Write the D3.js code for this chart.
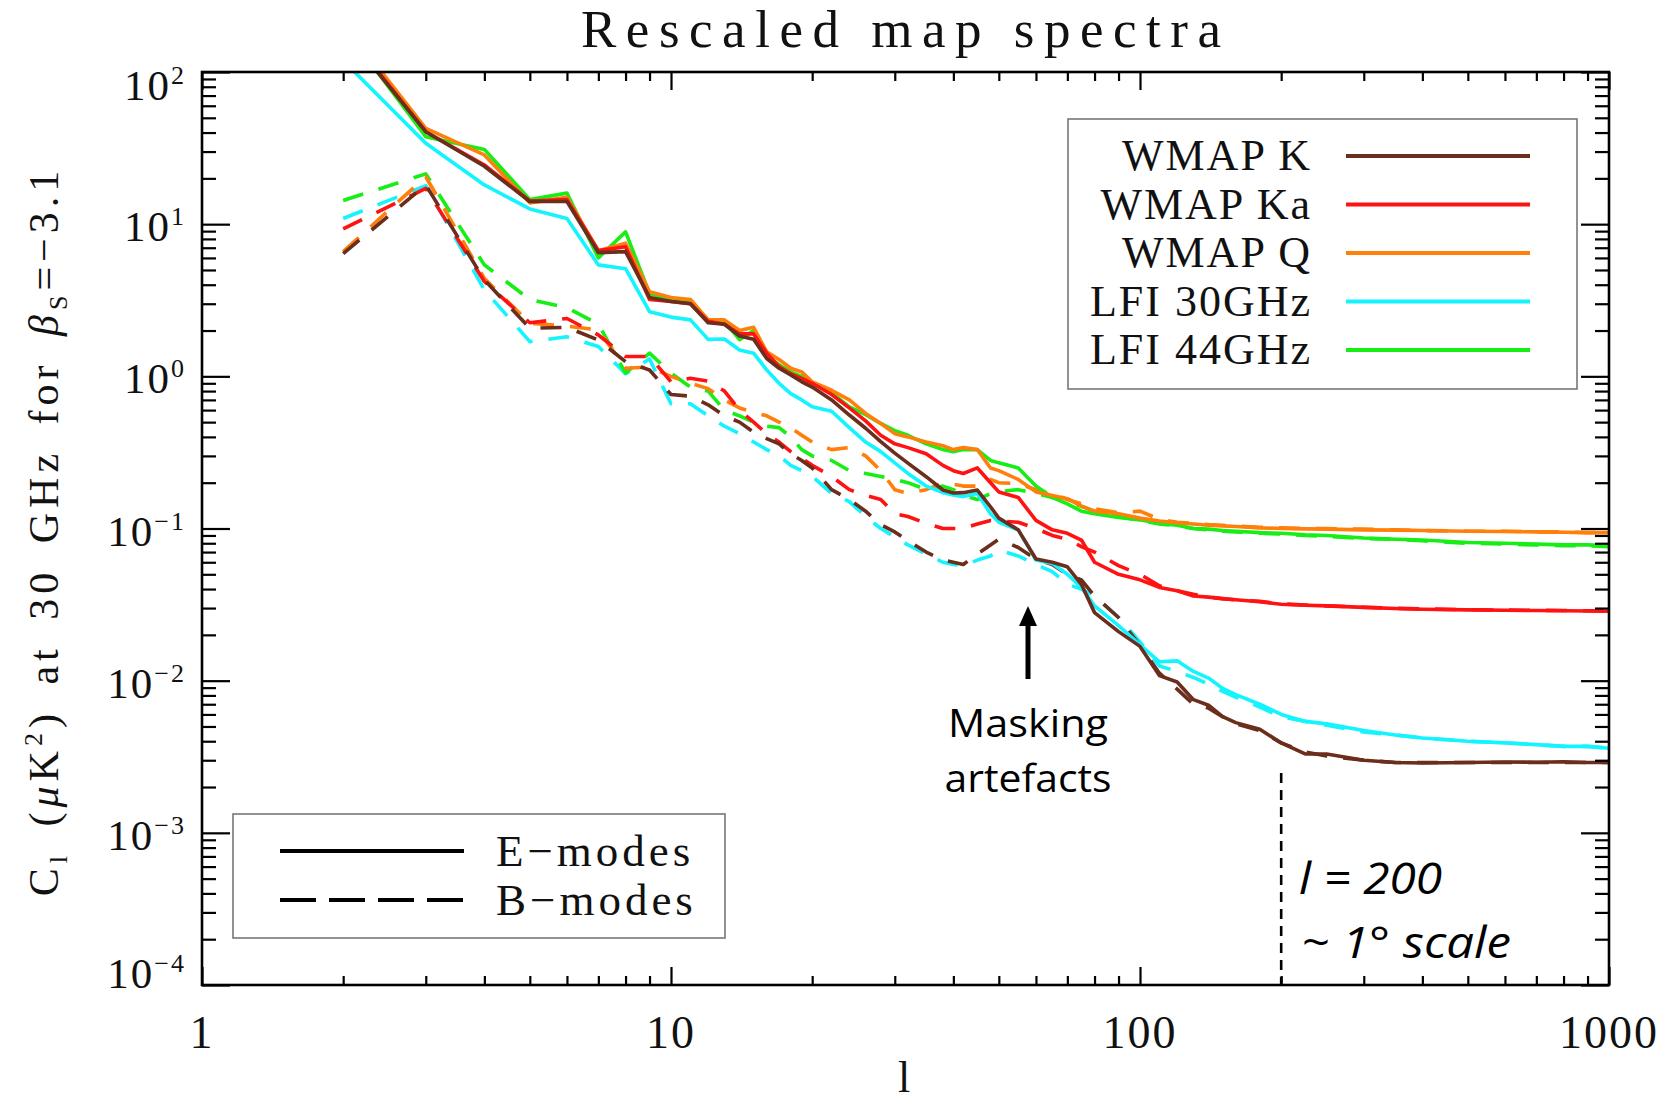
<!DOCTYPE html>
<html>
<head>
<meta charset="utf-8">
<script src="https://cdn.jsdelivr.net/npm/d3@7"></script>
<style>
  html, body { margin:0; padding:0; background:#fff; }
  svg { display:block; }
  .idl { font-family:"Liberation Serif","Times New Roman",serif; fill:#111; }
  .note { font-family:"Open Sans","Liberation Sans",sans-serif; fill:#000; }
</style>
</head>
<body>
<div id="chart"></div>
<script>
// multipole grid (shared by every series)
var ell = [2,3,4,5,6,7,8,9,10,11,12,13,14,15,16,17,18,19,20,22,24,26,28,30,32,35,38,40,42,45,48,50,
           55,60,65,70,75,80,90,100,110,120,130,140,150,160,180,200,225,250,300,350,400,500,600,700,800,900,1000];

// E-modes (solid)
var wmapK_E = [190,40.5,24,14.1,14.1,6.5,6.6,3.3, 3.1,3.0,2.25,2.2,1.84,1.75,1.31,1.13,1.02,0.92,0.85,
  0.70,0.557,0.456,0.372,0.313,0.269, 0.219,0.179,0.171,0.172,0.179,0.139,0.117,
  0.098,0.063,0.060,0.056,0.043,0.028,0.021,0.0168, 0.0108,0.0098,0.0075,0.0069,0.0058,0.0053,0.0048,0.0039,
  0.0033,0.0033,0.0030,0.0029,0.00288, 0.0029,0.00292,0.00291,0.00293,0.0029,0.0029];
var wmapKa_E = [195,40.5,24.5,14.2,14.5,6.7,7.1,3.2, 3.1,3.0,2.3,2.2,1.9,1.9,1.42,1.16,1.04,0.97,0.90,
  0.76,0.62,0.51,0.41,0.36,0.34, 0.31,0.26,0.24,0.23,0.25,0.20,0.174,
  0.16,0.113,0.098,0.093,0.084,0.06,0.05,0.046, 0.041,0.039,0.036,0.0354,0.0346,0.034,0.033,0.0318,
  0.0313,0.031,0.0303,0.0298,0.0295, 0.0292,0.029,0.0289,0.0288,0.0287,0.0286];
var wmapQ_E = [210,42.6,28.5,13.8,15,6.7,7.5,3.6, 3.3,3.2,2.35,2.35,2.0,2.1,1.45,1.29,1.13,1.07,0.92,
  0.81,0.70,0.57,0.49,0.42,0.40, 0.37,0.35,0.33,0.34,0.33,0.25,0.24,
  0.21,0.174,0.165,0.157,0.14,0.13,0.125,0.117, 0.112,0.109,0.107,0.105,0.104,0.103,0.101,0.1,
  0.0995,0.099,0.098,0.0975,0.097, 0.096,0.0955,0.095,0.0945,0.094,0.094];
var lfi30_E = [119,34,18.1,12.6,10.9,5.4,5.1,2.66, 2.45,2.35,1.75,1.76,1.49,1.42,1.1,0.90,0.77,0.70,0.63,
  0.59,0.46,0.37,0.32,0.27,0.23, 0.19,0.172,0.166,0.162,0.17,0.125,0.11,
  0.098,0.062,0.059,0.05,0.041,0.031,0.023,0.0172, 0.0133,0.0135,0.0115,0.0104,0.0089,0.0081,0.0070,0.0060,
  0.0054,0.0052,0.0047,0.0044,0.0042, 0.0040,0.0039,0.0038,0.0037,0.0037,0.0036];
var lfi44_E = [200,37.6,31,14.5,16,6.0,8.9,3.5, 3.2,3.1,2.35,2.3,1.74,2.0,1.38,1.19,1.07,1.0,0.90,
  0.78,0.63,0.56,0.49,0.44,0.41, 0.36,0.33,0.32,0.33,0.33,0.28,0.27,
  0.25,0.19,0.16,0.145,0.13,0.125,0.118,0.114, 0.108,0.105,0.10,0.099,0.097,0.096,0.094,0.093,
  0.091,0.090,0.0867,0.085,0.084, 0.081,0.08,0.079,0.078,0.078,0.077];

// B-modes (dashed)
var wmapK_B = [6.4,18.1,4.3,2.07,2.1,1.73,1.25,1.1, 0.76,0.74,0.65,0.55,0.50,0.43,0.39,0.36,0.31,0.28,0.25,
  0.18,0.155,0.13,0.106,0.095,0.083, 0.07,0.062,0.06,0.058,0.068,0.078,0.085,
  0.075,0.063,0.058,0.05,0.046,0.036,0.026,0.017, 0.0112,0.0088,0.0070,0.0066,0.0058,0.0052,0.0047,0.0039,
  0.0034,0.0032,0.0030,0.0029,0.0029, 0.0029,0.0029,0.0029,0.0029,0.0029,0.0029];
var wmapKa_B = [9.3,17.2,4.2,2.25,2.4,1.87,1.35,1.35, 0.92,0.97,0.93,0.8,0.6,0.5,0.42,0.37,0.32,0.29,0.26,
  0.22,0.18,0.165,0.155,0.125,0.12, 0.108,0.1,0.1,0.1,0.107,0.113,0.112,
  0.11,0.1,0.09,0.085,0.076,0.07,0.057,0.05, 0.042,0.039,0.037,0.0355,0.0345,0.034,0.0332,0.032,
  0.0314,0.031,0.0304,0.0299,0.0296, 0.0293,0.0291,0.029,0.0289,0.0288,0.0287];
var wmapQ_B = [6.6,20.5,4.4,2.23,2.14,2.02,1.13,1.15, 1.0,0.9,0.83,0.7,0.62,0.58,0.55,0.5,0.46,0.41,0.37,
  0.33,0.34,0.3,0.24,0.18,0.17, 0.18,0.2,0.195,0.19,0.19,0.21,0.2,
  0.197,0.18,0.17,0.155,0.145,0.135,0.127,0.13, 0.115,0.11,0.108,0.106,0.105,0.104,0.102,0.101,
  0.1,0.1,0.099,0.098,0.097, 0.096,0.096,0.095,0.095,0.094,0.094];
var lfi30_B = [10.9,17.9,3.7,1.69,1.82,1.57,1.04,1.3, 0.66,0.66,0.55,0.47,0.42,0.37,0.33,0.30,0.26,0.24,0.22,
  0.17,0.15,0.12,0.10,0.088,0.078, 0.068,0.06,0.058,0.057,0.062,0.066,0.072,
  0.066,0.058,0.052,0.043,0.04,0.036,0.026,0.018, 0.0125,0.0115,0.0105,0.0095,0.0085,0.0078,0.0067,0.0058,
  0.0054,0.0051,0.0046,0.0044,0.0042, 0.004,0.0039,0.0038,0.0037,0.0037,0.0036];
var lfi44_B = [14.3,21.4,5.4,3.2,2.83,2.2,1.05,1.42, 1.05,0.85,0.8,0.6,0.55,0.5,0.47,0.46,0.4,0.33,0.3,
  0.28,0.24,0.23,0.22,0.21,0.2, 0.18,0.19,0.18,0.165,0.155,0.17,0.175,
  0.18,0.17,0.16,0.15,0.14,0.13,0.12,0.113, 0.107,0.104,0.1,0.098,0.096,0.095,0.093,0.092,
  0.09,0.089,0.086,0.085,0.083, 0.08,0.079,0.078,0.077,0.077,0.076];

var seriesNames = ["WMAP K","WMAP Ka","WMAP Q","LFI 30GHz","LFI 44GHz"];
var seriesE = [wmapK_E, wmapKa_E, wmapQ_E, lfi30_E, lfi44_E];
var seriesB = [wmapK_B, wmapKa_B, wmapQ_B, lfi30_B, lfi44_B];
var modeNames = ["E\u2212modes","B\u2212modes"];
var yTickExps = [2,1,0,-1,-2,-3,-4];
var xTickLabels = ["1","10","100","1000"];

var colors = ["#6b2d1c","#ff1212","#ff7f0a","#14f4ff","#16ee16"];
var drawOrder = [3,4,2,1,0];

var W = 1664, H = 1104;
var L = 202, R = 1609, T = 72, B = 985;

var svg = d3.select("#chart").append("svg").attr("width",W).attr("height",H);
svg.append("rect").attr("width",W).attr("height",H).attr("fill","#fff");

var x = d3.scaleLog().domain([1,1000]).range([L,R]);
var y = d3.scaleLog().domain([1e-4,1e2]).range([B,T]);

function isMajor(t) {
    var e = Math.log10(t);
    return Math.abs(e - Math.round(e)) < 1e-6;
}
var xMajor = x.ticks().filter(isMajor), xMinor = x.ticks().filter(function (t) { return !isMajor(t); });
var yMajor = y.ticks().filter(isMajor), yMinor = y.ticks().filter(function (t) { return !isMajor(t); });

// clip for the curves
svg.append("clipPath").attr("id","plotClip")
    .append("rect").attr("x",L).attr("y",T).attr("width",R-L).attr("height",B-T);

var line = d3.line()
    .x(function (d) { return x(d[0]); })
    .y(function (d) { return y(d[1]); });

var curves = svg.append("g").attr("clip-path","url(#plotClip)");
drawOrder.forEach(function (i) {
    curves.append("path")
        .datum(ell.map(function (l, k) { return [l, seriesB[i][k]]; }))
        .attr("d", line).attr("fill","none")
        .attr("stroke", colors[i]).attr("stroke-width",3.6)
        .attr("stroke-dasharray","21,16").attr("stroke-linejoin","round");
});
drawOrder.forEach(function (i) {
    curves.append("path")
        .datum(ell.map(function (l, k) { return [l, seriesE[i][k]]; }))
        .attr("d", line).attr("fill","none")
        .attr("stroke", colors[i]).attr("stroke-width",3.6)
        .attr("stroke-linejoin","round");
});

// axes: inward ticks on all four sides
function addAxis(axis, tx, ty) {
    var g = svg.append("g").attr("transform","translate(" + tx + "," + ty + ")").call(axis);
    g.select(".domain").remove();
    g.selectAll("line").attr("stroke","#000").attr("stroke-width",2.2);
    g.selectAll("text").remove();
    return g;
}
addAxis(d3.axisBottom(x).tickValues(xMajor).tickSize(-18).tickSizeOuter(0), 0, B);
addAxis(d3.axisBottom(x).tickValues(xMinor).tickSize(-9).tickSizeOuter(0), 0, B);
addAxis(d3.axisTop(x).tickValues(xMajor).tickSize(-18).tickSizeOuter(0), 0, T);
addAxis(d3.axisTop(x).tickValues(xMinor).tickSize(-9).tickSizeOuter(0), 0, T);
addAxis(d3.axisLeft(y).tickValues(yMajor).tickSize(-28).tickSizeOuter(0), L, 0);
addAxis(d3.axisLeft(y).tickValues(yMinor).tickSize(-14).tickSizeOuter(0), L, 0);
addAxis(d3.axisRight(y).tickValues(yMajor).tickSize(-28).tickSizeOuter(0), R, 0);
addAxis(d3.axisRight(y).tickValues(yMinor).tickSize(-14).tickSizeOuter(0), R, 0);

svg.append("rect").attr("x",L).attr("y",T).attr("width",R-L).attr("height",B-T)
    .attr("fill","none").attr("stroke","#000").attr("stroke-width",2.6);

// x tick labels
svg.selectAll("text.xlab").data(xTickLabels).enter().append("text")
    .attr("class","idl xlab")
    .attr("x", function (d) { return x(+d); })
    .attr("y", B + 63)
    .attr("text-anchor","middle")
    .attr("font-size",46).attr("letter-spacing",2)
    .text(function (d) { return d; });

// y tick labels 10^n
var ylab = svg.selectAll("text.ylab").data(yTickExps).enter().append("text")
    .attr("class","idl ylab")
    .attr("x", 186)
    .attr("y", function (e) { return Math.min(Math.max(y(Math.pow(10,e)) + 17, T + 28), B + 3); })
    .attr("text-anchor","end")
    .attr("font-size",43).attr("letter-spacing",2);
ylab.append("tspan").text("10");
ylab.append("tspan").attr("font-size",26).attr("dy",-16)
    .text(function (e) { return e < 0 ? "\u2212" + (-e) : String(e); });

// title and axis titles
svg.append("text").attr("class","idl")
    .attr("x",581).attr("y",47).attr("font-size",53)
    .attr("textLength",640).attr("lengthAdjust","spacing")
    .text("Rescaled map spectra");

svg.append("text").attr("class","idl")
    .attr("x",904).attr("y",1092).attr("text-anchor","middle").attr("font-size",44)
    .text("l");

var yt = svg.append("text").attr("class","idl")
    .attr("transform","translate(58,531) rotate(-90)")
    .attr("text-anchor","middle").attr("font-size",42)
    .attr("letter-spacing",5).attr("word-spacing",9);
yt.append("tspan").text("C");
yt.append("tspan").attr("font-size",26).attr("dy",9).text("l");
yt.append("tspan").attr("dy",-9).text(" (");
yt.append("tspan").attr("font-style","italic").text("\u03bc");
yt.append("tspan").text("K");
yt.append("tspan").attr("font-size",26).attr("dy",-16).text("2");
yt.append("tspan").attr("dy",16).text(") at 30 GHz for ");
yt.append("tspan").attr("font-style","italic").text("\u03b2");
yt.append("tspan").attr("font-size",26).attr("dy",9).text("S");
yt.append("tspan").attr("dy",-9).text("=\u22123.1");

// series legend
svg.append("rect").attr("x",1068).attr("y",119).attr("width",509).attr("height",270)
    .attr("fill","#fff").attr("stroke","#777").attr("stroke-width",1.6);
var leg = svg.selectAll("g.leg").data(seriesNames).enter().append("g").attr("class","leg")
    .attr("transform", function (d, i) { return "translate(0," + (170 + i * 48.5) + ")"; });
leg.append("text").attr("class","idl").attr("x",1312).attr("y",0)
    .attr("text-anchor","end").attr("font-size",44).attr("letter-spacing",2)
    .text(function (d) { return d; });
leg.append("line").attr("x1",1346).attr("x2",1530).attr("y1",-14).attr("y2",-14)
    .attr("stroke", function (d, i) { return colors[i]; }).attr("stroke-width",4);

// mode legend
svg.append("rect").attr("x",233).attr("y",814).attr("width",492).attr("height",124)
    .attr("fill","#fff").attr("stroke","#777").attr("stroke-width",1.6);
var mleg = svg.selectAll("g.mleg").data(modeNames).enter().append("g").attr("class","mleg")
    .attr("transform", function (d, i) { return "translate(0," + (866 + i * 49) + ")"; });
mleg.append("text").attr("class","idl").attr("x",496).attr("y",0)
    .attr("font-size",45).attr("letter-spacing",4)
    .text(function (d) { return d; });
mleg.append("line").attr("x1",280).attr("x2",464).attr("y1",-15).attr("y2",-15)
    .attr("stroke","#000").attr("stroke-width",4)
    .attr("stroke-dasharray", function (d, i) { return i ? "36,13" : null; });

// annotations
svg.append("line").attr("x1",1028).attr("x2",1028).attr("y1",679).attr("y2",622)
    .attr("stroke","#000").attr("stroke-width",5);
svg.append("path").attr("d","M1019,626 L1028,606 L1037,626 Z").attr("fill","#000");
svg.append("text").attr("class","note").attr("x",1028).attr("y",737)
    .attr("text-anchor","middle").attr("font-size",39)
    .attr("textLength",160).attr("lengthAdjust","spacingAndGlyphs").text("Masking");
svg.append("text").attr("class","note").attr("x",1028).attr("y",792)
    .attr("text-anchor","middle").attr("font-size",39)
    .attr("textLength",167).attr("lengthAdjust","spacingAndGlyphs").text("artefacts");

svg.append("line").attr("x1",x(200)).attr("x2",x(200)).attr("y1",773).attr("y2",B)
    .attr("stroke","#000").attr("stroke-width",2.6).attr("stroke-dasharray","10,7");
svg.append("text").attr("class","note").attr("x",1299).attr("y",894)
    .attr("font-size",44).attr("font-style","italic")
    .attr("textLength",143).attr("lengthAdjust","spacingAndGlyphs").text("l = 200");
svg.append("text").attr("class","note").attr("x",1301).attr("y",958)
    .attr("font-size",44).attr("font-style","italic")
    .attr("textLength",210).attr("lengthAdjust","spacingAndGlyphs").text("~ 1\u00b0 scale");
</script>
</body>
</html>
